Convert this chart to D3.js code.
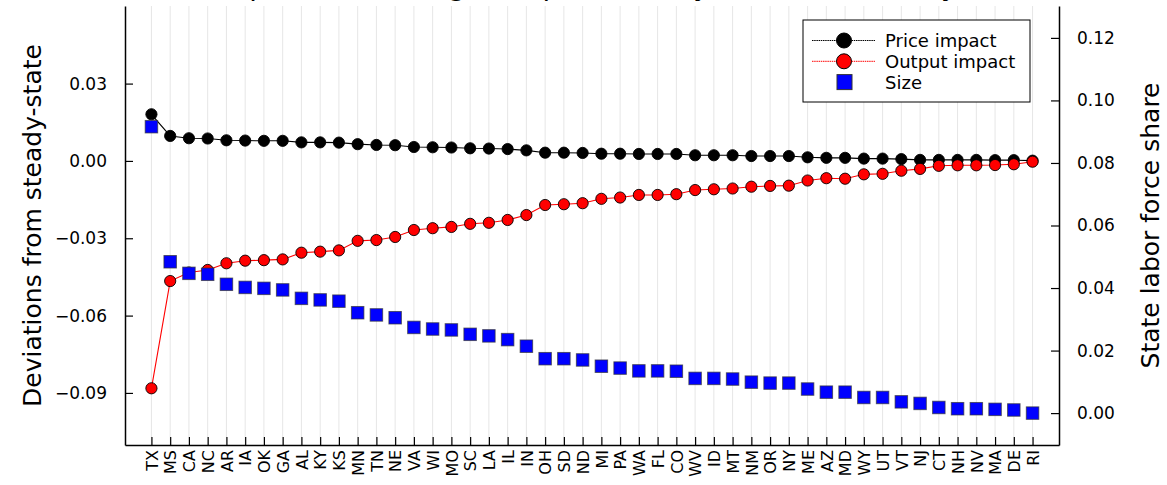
<!DOCTYPE html>
<html>
<head>
<meta charset="utf-8">
<script src="https://cdn.jsdelivr.net/npm/d3@7"></script>
<style>
	body { margin: 0; background: #fff; }
	svg { font-family: "DejaVu Sans", sans-serif; }
</style>
</head>
<body>
<svg id="chart"></svg>
<script>
// states, sorted by size of the response
const states = ["TX", "MS", "CA", "NC", "AR", "IA", "OK", "GA", "AL", "KY", "KS", "MN", "TN", "NE", "VA", "WI",
	"MO", "SC", "LA", "IL", "IN", "OH", "SD", "ND", "MI", "PA", "WA", "FL", "CO", "WV", "ID", "MT",
	"NM", "OR", "NY", "ME", "AZ", "MD", "WY", "UT", "VT", "NJ", "CT", "NH", "NV", "MA", "DE", "RI"]

const priceImpact = [0.0181, 0.0097, 0.0088, 0.0087, 0.0080, 0.0079, 0.0078, 0.0078, 0.0072, 0.0072, 0.0071, 0.0065,
	0.0062, 0.0061, 0.0054, 0.0053, 0.0052, 0.0049, 0.0048, 0.0046, 0.0041, 0.0032, 0.0032, 0.0031,
	0.0028, 0.0028, 0.0027, 0.0027, 0.0027, 0.0022, 0.0022, 0.0022, 0.0019, 0.0019, 0.0019, 0.0014,
	0.0012, 0.0012, 0.0009, 0.0009, 0.0007, 0.0004, 0.0004, 0.0004, 0.0004, 0.0003, 0.0003, 0.0001]

const outputImpact = [-0.0882, -0.0466, -0.0433, -0.0423, -0.0397, -0.0387, -0.0385, -0.0382, -0.0356, -0.0352, -0.0347, -0.0310,
	-0.0307, -0.0295, -0.0268, -0.0261, -0.0256, -0.0244, -0.0240, -0.0229, -0.0210, -0.0171, -0.0168, -0.0164,
	-0.0147, -0.0142, -0.0132, -0.0132, -0.0129, -0.0113, -0.0110, -0.0107, -0.0100, -0.0097, -0.0096, -0.0076,
	-0.0067, -0.0069, -0.0052, -0.0050, -0.0038, -0.0031, -0.0019, -0.0017, -0.0017, -0.0016, -0.0013, -0.0003]

const laborShare = [0.0916, 0.0484, 0.0447, 0.0444, 0.0412, 0.0402, 0.0399, 0.0394, 0.0367, 0.0362, 0.0358, 0.0321,
	0.0314, 0.0305, 0.0274, 0.0269, 0.0266, 0.0252, 0.0247, 0.0235, 0.0214, 0.0174, 0.0174, 0.0170,
	0.0150, 0.0144, 0.0135, 0.0135, 0.0134, 0.0111, 0.0111, 0.0109, 0.0099, 0.0096, 0.0096, 0.0077,
	0.0067, 0.0067, 0.0050, 0.0050, 0.0036, 0.0031, 0.0018, 0.0014, 0.0014, 0.0012, 0.0010, 0.0000]

const leftTicks = [-0.09, -0.06, -0.03, 0.00, 0.03]
const rightTicks = [0.00, 0.02, 0.04, 0.06, 0.08, 0.10, 0.12]

const title = "State responses to a regional productivity shock, ranked by state size"
const leftLabel = "Deviations from steady-state"
const rightLabel = "State labor force share"
const legendItems = [
	{ name: "Price impact", color: "black", shape: "circle", line: true },
	{ name: "Output impact", color: "red", shape: "circle", line: true },
	{ name: "Size", color: "blue", shape: "square", line: false },
]

const width = 1167
const height = 485
const plot = { left: 125, right: 1059, top: 6, bottom: 445 }

const svg = d3.select("#chart")
	.attr("width", width)
	.attr("height", height)

const x = d3.scalePoint()
	.domain(states)
	.range([plot.left, plot.right])
	.padding(1.41)

const yL = d3.scaleLinear()
	.domain([-0.1102, 0.0601])
	.range([plot.bottom, plot.top])

const yR = d3.scaleLinear()
	.domain([-0.0102, 0.1302])
	.range([plot.bottom, plot.top])

// vertical grid
svg.append("g")
	.selectAll("line")
	.data(states)
	.join("line")
	.attr("x1", d => x(d))
	.attr("x2", d => x(d))
	.attr("y1", plot.top)
	.attr("y2", plot.bottom)
	.attr("stroke", "#e6e6e6")
	.attr("stroke-width", 1)

// title, mostly clipped by the top edge like in the original
svg.append("text")
	.attr("x", (plot.left + plot.right) / 2 + 20)
	.attr("y", -5)
	.attr("text-anchor", "middle")
	.attr("font-size", 28)
	.text(title)

const fmt = d3.format(".2f")

const axL = svg.append("g")
	.attr("transform", "translate(" + plot.left + ",0)")
	.call(d3.axisLeft(yL).tickValues(leftTicks).tickFormat(fmt).tickSizeInner(-8).tickSizeOuter(0).tickPadding(18))
const axR = svg.append("g")
	.attr("transform", "translate(" + plot.right + ",0)")
	.call(d3.axisRight(yR).tickValues(rightTicks).tickFormat(fmt).tickSizeInner(-8).tickSizeOuter(0).tickPadding(18))
const axB = svg.append("g")
	.attr("transform", "translate(0," + plot.bottom + ")")
	.call(d3.axisBottom(x).tickSizeInner(-8).tickSizeOuter(0))

axB.selectAll("text")
	.attr("transform", "rotate(-90)")
	.attr("x", -5)
	.attr("y", 0)
	.attr("dy", "0.36em")
	.style("text-anchor", "end")
	.attr("font-size", 16)

for (const ax of [axL, axR, axB]) {
	ax.select(".domain").attr("stroke-width", 1.5)
	ax.selectAll(".tick line").attr("stroke-width", 1.2)
	ax.selectAll("text").attr("font-family", "DejaVu Sans").attr("fill", "black")
}
axL.selectAll("text").attr("font-size", 17)
axR.selectAll("text").attr("font-size", 17)

svg.append("text")
	.attr("transform", "translate(41," + (plot.top + plot.bottom) / 2 + ") rotate(-90)")
	.attr("text-anchor", "middle")
	.attr("font-size", 25)
	.text(leftLabel)

svg.append("text")
	.attr("transform", "translate(1159," + (plot.top + plot.bottom) / 2 + ") rotate(-90)")
	.attr("text-anchor", "middle")
	.attr("font-size", 25)
	.text(rightLabel)

function drawLineSeries(values, color) {
	const line = d3.line()
		.x((d, i) => x(states[i]))
		.y(d => yL(d))
	svg.append("path")
		.datum(values)
		.attr("fill", "none")
		.attr("stroke", color)
		.attr("stroke-width", 1.1)
		.attr("d", line)
	svg.append("g")
		.selectAll("circle")
		.data(values)
		.join("circle")
		.attr("cx", (d, i) => x(states[i]))
		.attr("cy", d => yL(d))
		.attr("r", 5.6)
		.attr("fill", color)
		.attr("stroke", "black")
		.attr("stroke-width", 0.9)
}

drawLineSeries(priceImpact, "black")
drawLineSeries(outputImpact, "red")

const sq = 12.5
svg.append("g")
	.selectAll("rect")
	.data(laborShare)
	.join("rect")
	.attr("x", (d, i) => x(states[i]) - sq / 2)
	.attr("y", d => yR(d) - sq / 2)
	.attr("width", sq)
	.attr("height", sq)
	.attr("fill", "blue")
	.attr("stroke", "#333")
	.attr("stroke-opacity", 0.7)
	.attr("stroke-width", 1)

// legend
const lg = svg.append("g").attr("transform", "translate(803,20)")
lg.append("rect")
	.attr("width", 227)
	.attr("height", 82)
	.attr("fill", "white")
	.attr("stroke", "black")
	.attr("stroke-width", 1)

legendItems.forEach((item, i) => {
	const row = lg.append("g").attr("transform", "translate(0," + (20.5 + i * 20.8) + ")")
	if (item.line) {
		row.append("line")
			.attr("x1", 9).attr("x2", 72)
			.attr("stroke", item.color)
			.attr("stroke-width", 1)
			.attr("stroke-dasharray", "1.5,0.7")
	}
	if (item.shape === "circle") {
		row.append("circle")
			.attr("cx", 41).attr("r", 7.5)
			.attr("fill", item.color)
			.attr("stroke", "black")
			.attr("stroke-width", 1)
	} else {
		row.append("rect")
			.attr("x", 34).attr("y", -7.5)
			.attr("width", 15).attr("height", 15)
			.attr("fill", item.color)
			.attr("stroke", "#333")
			.attr("stroke-width", 1)
	}
	row.append("text")
		.attr("x", 82)
		.attr("dy", "0.36em")
		.attr("font-size", 18)
		.text(item.name)
})
</script>
</body>
</html>
